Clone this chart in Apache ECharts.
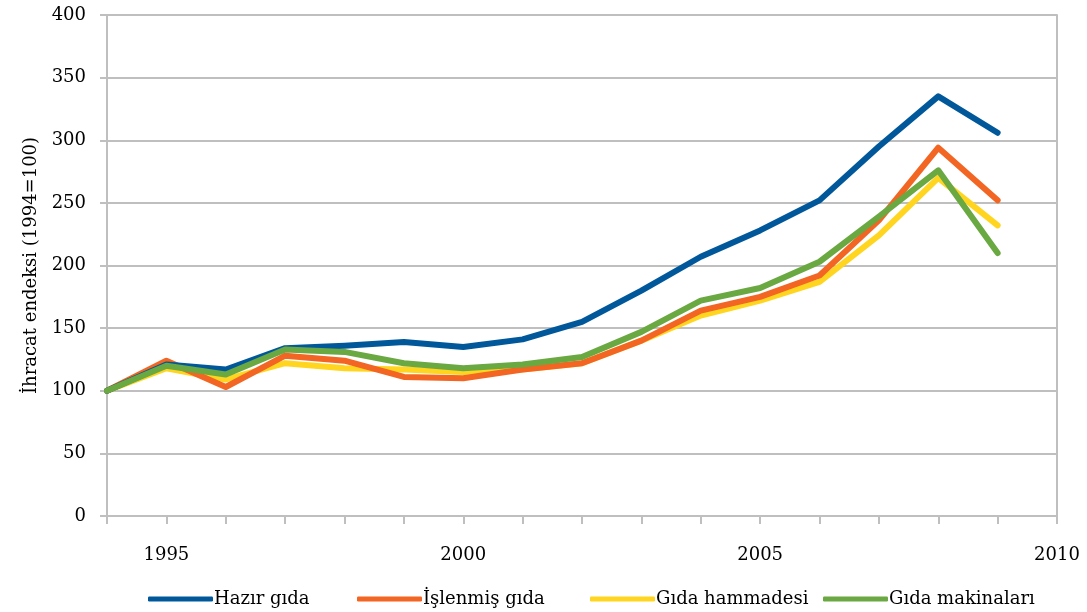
<!DOCTYPE html>
<html><head><meta charset="utf-8">
<script src="https://cdn.jsdelivr.net/npm/echarts@6/dist/echarts.min.js"></script>
<style>html,body{margin:0;padding:0;background:#fff}#c{width:1087px;height:612px}</style>
</head><body><div id="c"></div>
<script>
var years = [1994,1995,1996,1997,1998,1999,2000,2001,2002,2003,2004,2005,2006,2007,2008,2009];
var seriesNames = ['Hazır gıda','İşlenmiş gıda','Gıda hammadesi','Gıda makinaları'];
var hazirGida = [100,121,117,134,136,139,135,141,155,180,207,228,252,295,335,306];
var islenmisGida = [100,124,103,128,124,111,110,117,122,140,164,175,192,236,294,252];
var gidaHammadesi = [100,118,109,122,118,117,115,117,122,140,160,172,187,224,270,232];
var gidaMakinalari = [100,120,113,133,131,122,118,121,127,147,172,182,203,239,276,210];
var yTicks = [0,50,100,150,200,250,300,350,400];
var xLabelYears = [1995,2000,2005,2010];

var colors = ['#00589b','#f26522','#ffd520','#6aa842'];
var values = [hazirGida, islenmisGida, gidaHammadesi, gidaMakinalari];
var font = 'DejaVu Serif';
var chart = echarts.init(document.getElementById('c'));
var legendLefts = [143, 352, 585, 818];
var zs = [11, 9, 8, 12];
var series = values.map(function(v, i){
  return {
    name: seriesNames[i], type: 'line', symbol: 'none', z: zs[i],
    lineStyle: {color: colors[i], width: 6, cap: 'round', join: 'round'},
    itemStyle: {color: colors[i]},
    data: years.map(function(y, k){ return [y, v[k]]; })
  };
});
var legends = seriesNames.map(function(n, i){
  return {
    data: [n], left: legendLefts[i], top: 585, icon: 'roundRect',
    itemWidth: 65, itemHeight: 5, itemGap: 0,
    textStyle: {fontFamily: font, fontSize: 18, color: '#000', padding: [0,0,0,-4]}
  };
});
chart.setOption({
  animation: false,
  legend: legends,
  grid: {left: 107, right: 30, top: 15, bottom: 96, containLabel: false},
  xAxis: {
    type: 'value', min: 1994, max: 2010, interval: 1,
    axisLine: {show: true, lineStyle: {color: '#bfbfbf', width: 2}},
    axisTick: {show: true, inside: false, length: 8, lineStyle: {color: '#bfbfbf', width: 2}},
    splitLine: {show: false},
    axisLabel: {
      margin: 30, fontFamily: font, fontSize: 18, color: '#000',
      formatter: function(v){ return xLabelYears.indexOf(v) >= 0 ? String(v) : ''; }
    }
  },
  yAxis: [{
    type: 'value', min: 0, max: 400, interval: 50,
    name: 'İhracat endeksi (1994=100)', nameLocation: 'middle', nameGap: 66,
    nameTextStyle: {fontFamily: font, fontSize: 18, color: '#000'},
    axisLine: {show: true, lineStyle: {color: '#bfbfbf', width: 2}},
    axisTick: {show: true, inside: false, length: 7, lineStyle: {color: '#bfbfbf', width: 2}},
    splitLine: {show: true, lineStyle: {color: '#bfbfbf', width: 2}},
    axisLabel: {margin: 21, fontFamily: font, fontSize: 18, color: '#000',
      formatter: function(v){ return yTicks.indexOf(v) >= 0 ? String(v) : ''; }}
  }, {
    type: 'value', min: 0, max: 400, interval: 50, position: 'right',
    axisLine: {show: true, lineStyle: {color: '#bfbfbf', width: 2}},
    axisTick: {show: false}, axisLabel: {show: false}, splitLine: {show: false}
  }],
  series: series
});
</script></body></html>
